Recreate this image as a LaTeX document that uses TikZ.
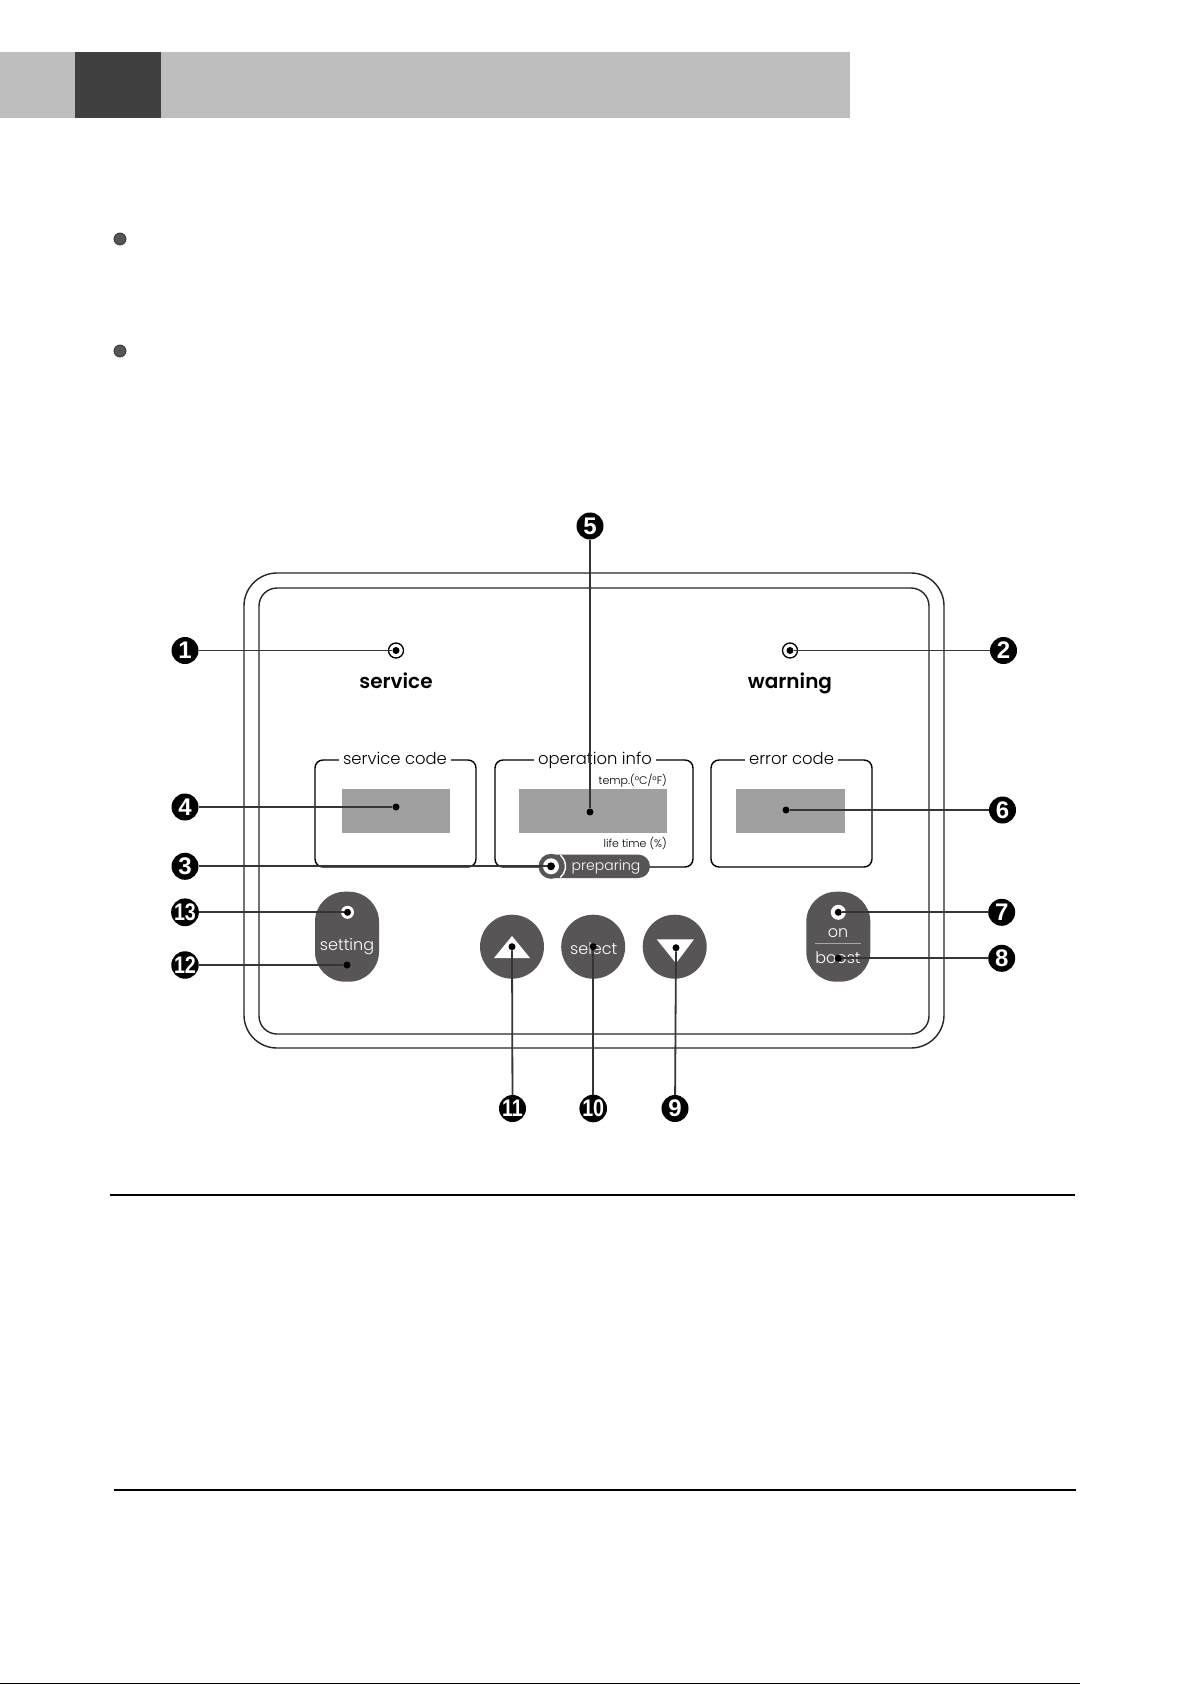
\documentclass[tikz,border=0pt]{standalone}
\usepackage{fontspec}
\setmainfont{Poppins}[UprightFont=* Light,BoldFont=* SemiBold]
\newfontfamily\calloutfont{Liberation Sans}
\usetikzlibrary{positioning,calc}
\definecolor{hdrgray}{RGB}{190,190,190}
\definecolor{hdrdark}{RGB}{64,64,64}
\definecolor{bulletgray}{RGB}{85,85,85}
\definecolor{keygray}{RGB}{88,85,86}
\definecolor{lcdgray}{RGB}{160,160,160}
\definecolor{leadergray}{RGB}{55,52,53}
\tikzset{
  callout/.style={
    circle,
    fill=black,
    text=white,
    inner sep=0pt,
    minimum size=27pt,
    font=\calloutfont\bfseries\fontsize{24}{24}\selectfont
  },
  leader/.style={draw=leadergray,line width=1.8pt},
  tipdot/.style={circle,fill=black,inner sep=0pt,minimum size=7pt},
  ledring/.style={circle,draw=black,line width=1.3pt,fill=white,inner sep=0pt,minimum size=15pt},
  ledspot/.style={circle,fill=white,inner sep=0pt,minimum size=14pt},
  lcdwin/.style={fill=lcdgray,inner sep=0pt,minimum height=44pt},
  framebox/.style={draw=black,line width=1.4pt,rounded corners=8pt},
  framelabel/.style={fill=white,inner xsep=4pt,inner ysep=1pt,font=\fontsize{16.4}{18}\selectfont},
  tinylabel/.style={inner sep=0pt,font=\fontsize{11}{12}\selectfont},
  statuslabel/.style={inner sep=0pt,font=\bfseries\fontsize{20}{22}\selectfont},
  roundkey/.style={circle,fill=keygray,inner sep=0pt,minimum size=64pt},
  tallkey/.style={rectangle,rounded corners=30pt,fill=keygray,inner sep=0pt,minimum width=64pt,minimum height=90pt},
  keytext/.style={inner sep=0pt,text=white,font=\fontsize{16}{16}\selectfont},
  keyarrow/.style={fill=white},
  panelline/.style={draw=black!85,line width=1.4pt},
  rulebar/.style={draw=black,line width=1.6pt}
}
\begin{document}
\begin{tikzpicture}[x=1pt,y=-1pt]
  \useasboundingbox (0,0) rectangle (1192,1685);
  \fill[hdrgray] (0,52) rectangle (850,118);
  \fill[hdrdark] (75,52) rectangle (161,118);
  \filldraw[fill=bulletgray,draw=black!80,line width=0.8pt] (120,239) circle (6);
  \filldraw[fill=bulletgray,draw=black!80,line width=0.8pt] (120,351) circle (6);

  \draw[panelline,rounded corners=33pt] (244,573) rectangle (944,1048);
  \draw[panelline,rounded corners=18pt] (259,588) rectangle (929,1034);

  \node[ledring] (svcled) at (396,650.5) {};
  \node[tipdot] (svcdot) at (svcled) {};
  \node[ledring] (warnled) at (790,650.5) {};
  \node[tipdot] (warndot) at (warnled) {};
  \node[statuslabel,below=37.5pt of svcled.center,anchor=base] (svctext) {service};
  \node[statuslabel,below=37.5pt of warnled.center,anchor=base] (warntext) {warning};

  \draw[framebox] (315,760) rectangle (476,867);
  \draw[framebox] (495,760) rectangle (693,867);
  \draw[framebox] (711,760) rectangle (872,867);
  \node[framelabel,anchor=base] (svclbl) at (395,764) {service code};
  \node[framelabel,anchor=base] (oplbl) at (595,764) {operation info};
  \node[framelabel,anchor=base] (errlbl) at (791.5,764) {error code};
  \node[lcdwin,minimum width=108.6pt] (svcwin) at (396,811.3) {};
  \node[lcdwin,minimum width=147.4pt] (opwin) at (593,811.3) {};
  \node[lcdwin,minimum width=109pt] (errwin) at (790.5,811.3) {};
  \node[tipdot] (svcwindot) at (396,807) {};
  \node[tipdot] (opwindot) at (590,812) {};
  \node[tipdot] (errwindot) at (786,810) {};
  \node[tinylabel,anchor=base east] (templbl) at (667,784) {temp.(°C/°F)};
  \node[tinylabel,anchor=base east] (lifelbl) at (667,847) {life time (\%)};

  \node[fill=keygray,rounded corners=11.7pt,minimum width=110.4pt,minimum height=23.4pt,inner sep=0pt] (prepill) at (594.8,866.3) {};
  \node[circle,fill=keygray,inner sep=0pt,minimum size=25pt] (prepdisk) at (551,866.3) {};
  \draw[white,line width=1.4pt] (prepdisk.center) ++(-50:14.5) arc[start angle=-50,end angle=50,radius=14.5];
  \node[ledspot,minimum size=16pt] (prepled) at (prepdisk) {};
  \node[tipdot,minimum size=8pt] (prepdot) at (prepled) {};
  \node[keytext,font=\fontsize{14}{14}\selectfont,anchor=base] (preptext) at (606,870.5) {preparing};

  \node[tallkey] (setkey) at (347,936.7) {};
  \node[ledspot,minimum size=13pt] (setled) at (347.5,912.3) {};
  \node[tipdot] (setleddot) at (setled) {};
  \node[keytext,anchor=base] (settext) at (347,950) {setting};
  \node[tipdot] (setdot) at (347,965) {};

  \node[roundkey] (upkey) at (512,946.7) {};
  \fill[keyarrow] (512,936) -- (530,958) -- (494,958) -- cycle;
  \node[tipdot] (updot) at (upkey) {};

  \node[roundkey] (selkey) at (593.2,946.7) {};
  \node[keytext,anchor=base] (seltext) at (593.8,954) {select};
  \node[tipdot] (seldot) at (selkey) {};

  \node[roundkey] (downkey) at (674.7,946.7) {};
  \fill[keyarrow] (656.7,939.3) -- (694,939.3) -- (676,963.3) -- cycle;
  \node[tipdot] (downdot) at (676,947.7) {};

  \node[tallkey] (onkey) at (838.3,936.7) {};
  \node[ledspot,minimum size=15pt] (onled) at (838.3,912.3) {};
  \node[tipdot] (ondot) at (onled) {};
  \node[keytext,anchor=base] (ontext) at (838,937.5) {on};
  \draw[black!35,line width=0.6pt] (815,943.5) -- (861,943.5);
  \node[keytext,anchor=base] (boosttext) at (838,963) {boost};
  \node[tipdot] (boostdot) at (838.3,958.3) {};

  \node[callout] (n1) at (185,650.5) {1};
  \node[callout] (n2) at (1003.5,650.5) {2};
  \node[callout] (n3) at (185,866.3) {3};
  \node[callout] (n4) at (185,807) {4};
  \node[callout] (n5) at (590,526) {5};
  \node[callout] (n6) at (1002.5,810) {6};
  \node[callout] (n7) at (1001.7,912.3) {7};
  \node[callout] (n8) at (1001.7,958.3) {8};
  \node[callout] (n9) at (675,1108.5) {9};
  \node[callout] (n10) at (593.2,1108.5) {\scalebox{0.82}[1]{10}};
  \node[callout] (n11) at (512.5,1108.5) {\scalebox{0.82}[1]{11}};
  \node[callout] (n12) at (185,965) {\scalebox{0.82}[1]{12}};
  \node[callout] (n13) at (185,912.3) {\scalebox{0.82}[1]{13}};

  \draw[leader] (n1) -- (svcdot);
  \draw[leader] (warndot) -- (n2);
  \draw[leader] (n3) -- (prepdot);
  \draw[leader] (n4) -- (svcwindot);
  \draw[leader] (n5) -- (opwindot);
  \draw[leader] (errwindot) -- (n6);
  \draw[leader] (ondot) -- (n7);
  \draw[leader] (boostdot) -- (n8);
  \draw[leader] (downdot) -- (n9);
  \draw[leader] (seldot) -- (n10);
  \draw[leader] (updot) -- (n11);
  \draw[leader] (n12) -- (setdot);
  \draw[leader] (n13) -- (setleddot);

  \draw[rulebar] (110,1195) -- (1075,1195);
  \draw[rulebar] (114,1490) -- (1076,1490);
  \draw[rulebar] (0,1683.5) -- (1080,1683.5);
\end{tikzpicture}
\end{document}
